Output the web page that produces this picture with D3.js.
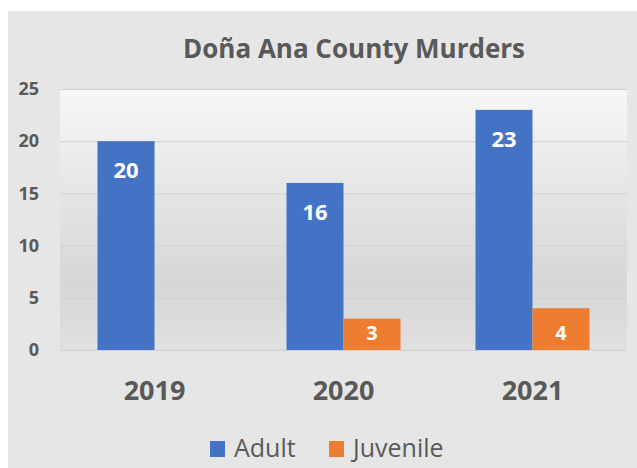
<!DOCTYPE html>
<html><head><meta charset="utf-8">
<script src="https://cdn.jsdelivr.net/npm/d3@7"></script>
<style>body{margin:0;background:#fff;} svg{display:block;}</style>
</head><body>
<svg id="c" width="637" height="468"></svg>
<script>
const categories = ["2019","2020","2021"];
const seriesNames = ["Adult","Juvenile"];
const adult = [20,16,23];
const juvenile = [null,3,4];
const yTicks = [0,5,10,15,20,25];
const title = "Doña Ana County Murders";
const colors = ["#4472C4","#ED7D31"];

const svg = d3.select("#c");
const W=637,H=468;
const FF="'Open Sans',sans-serif";
svg.append("rect").attr("x",8).attr("y",11).attr("width",W-8).attr("height",H-11).attr("fill","#e6e6e6");

const defs = svg.append("defs");
const g = defs.append("linearGradient").attr("id","pg").attr("x1",0).attr("y1",0).attr("x2",0).attr("y2",1);
g.append("stop").attr("offset","0").attr("stop-color","#f7f7f7");
g.append("stop").attr("offset","0.75").attr("stop-color","#d6d6d6");
g.append("stop").attr("offset","1").attr("stop-color","#e0e0e0");

const x0=60,x1=627,yTop=89,yBot=350;
const x = d3.scaleBand().domain(categories).range([x0,x1]).paddingInner(0).paddingOuter(0);
const y = d3.scaleLinear().domain([0,25]).range([yBot,yTop]);
svg.append("rect").attr("x",x0).attr("y",yTop).attr("width",x1-x0).attr("height",yBot-yTop).attr("fill","url(#pg)");

// gridlines
svg.append("g").selectAll("line").data(yTicks).join("line")
  .attr("x1",x0).attr("x2",x1).attr("y1",d=>y(d)+0.5).attr("y2",d=>y(d)+0.5)
  .attr("stroke","#d0d0d0").attr("stroke-width",1);

// y axis
const ya = svg.append("g").attr("transform",`translate(39,0)`)
  .call(d3.axisLeft(y).tickValues(yTicks).tickSize(0).tickPadding(0));
ya.select(".domain").remove();
ya.selectAll("text").attr("font-family",FF).attr("font-weight","bold")
  .attr("font-size","18px").attr("fill","#595959");

// x axis
const xa = svg.append("g").attr("transform",`translate(0,${yBot})`)
  .call(d3.axisBottom(x).tickSize(0).tickPadding(31));
xa.select(".domain").remove();
xa.selectAll("text").attr("font-family",FF).attr("font-weight","bold")
  .attr("font-size","27px").attr("fill","#595959");

const inner = d3.scaleBand().domain(seriesNames).range([0,114]);
const data = [adult,juvenile];
data.forEach((vals,si)=>{
  const items = categories.map((c,i)=>({c,v:vals[i]})).filter(d=>d.v!=null);
  svg.append("g").selectAll("rect").data(items).join("rect")
    .attr("x",d=>x(d.c)+x.bandwidth()/2-57+inner(seriesNames[si]))
    .attr("y",d=>y(d.v)).attr("width",inner.bandwidth()).attr("height",d=>yBot-y(d.v))
    .attr("fill",colors[si]);
  svg.append("g").selectAll("text").data(items).join("text")
    .attr("x",d=>x(d.c)+x.bandwidth()/2-57+inner(seriesNames[si])+inner.bandwidth()/2)
    .attr("y",d=> si==0 ? y(d.v)+37 : yBot-10)
    .attr("text-anchor","middle").attr("font-family",FF).attr("font-weight","bold")
    .attr("font-size",si==0?"22px":"20px").attr("fill","#fff").text(d=>d.v);
});

svg.append("text").attr("x",354).attr("y",58).attr("text-anchor","middle")
  .attr("font-family",FF).attr("font-weight","bold").attr("font-size","26px")
  .attr("fill","#595959").text(title);

// legend
const leg = [{n:"Adult",x:210},{n:"Juvenile",x:329}];
leg.forEach((l,i)=>{
  svg.append("rect").attr("x",l.x).attr("y",441).attr("width",15).attr("height",16).attr("fill",colors[i]);
  svg.append("text").attr("x",l.x+24).attr("y",457).attr("font-family",FF)
    .attr("font-size","25px").attr("fill","#595959").text(l.n);
});
</script>
</body></html>
